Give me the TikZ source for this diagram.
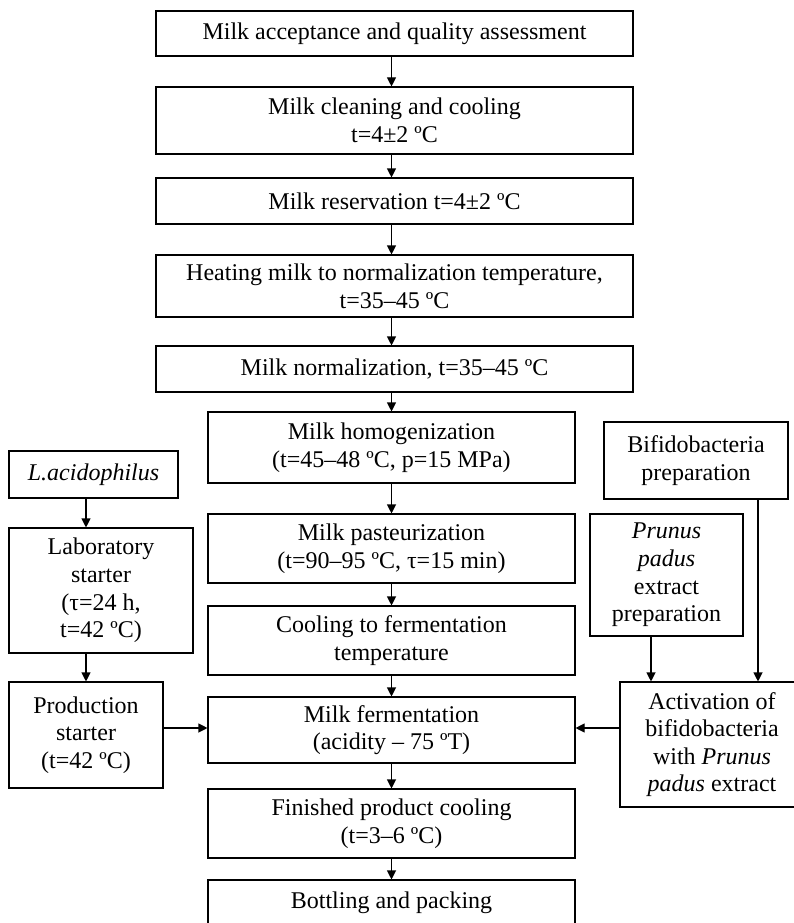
\documentclass[tikz,border=0pt]{standalone}
\usepackage{fontspec}
\setmainfont{Liberation Serif}
\usetikzlibrary{arrows.meta}
\tikzset{
  box/.style={draw=black, line width=1.1pt, rectangle, inner sep=0pt, align=center,
              font=\fontsize{24pt}{27.6pt}\selectfont},
  arr/.style={line width=1.1pt, -{Triangle[length=9pt,width=9pt]}}
}
\begin{document}
\begin{tikzpicture}[x=1pt,y=-1pt]
\useasboundingbox (0,0) rectangle (793,923);
% main column
\node[box, minimum width=477pt, minimum height=45pt] (acc) at (394.5,33.5) {Milk acceptance and quality assessment};
\node[box, minimum width=477pt, minimum height=67pt] (clean) at (394.5,120.5) {Milk cleaning and cooling\\t=4±2 ºC};
\node[box, minimum width=477pt, minimum height=46pt] (res) at (394.5,201) {Milk reservation t=4±2 ºC};
\node[box, minimum width=477pt, minimum height=62pt] (heat) at (394.5,286) {Heating milk to normalization temperature,\\t=35–45 ºC};
\node[box, minimum width=477pt, minimum height=46pt] (norm) at (394.5,369) {Milk normalization, t=35–45 ºC};
\node[box, minimum width=367pt, minimum height=71pt] (hom) at (391.5,447.5) {Milk homogenization\\(t=45–48 ºC, p=15 MPa)};
\node[box, minimum width=367pt, minimum height=69pt] (past) at (391.5,548.5) {Milk pasteurization\\(t=90–95 ºC, τ=15 min)};
\node[box, minimum width=367pt, minimum height=69pt] (coolf) at (391.5,640.5) {Cooling to fermentation\\temperature};
\node[box, minimum width=367pt, minimum height=66pt] (ferm) at (391.5,730) {Milk fermentation\\(acidity – 75 ºT)};
\node[box, minimum width=367pt, minimum height=69pt] (fin) at (391.5,823.5) {Finished product cooling\\(t=3–6 ºC)};
\node[box, minimum width=367pt, minimum height=46pt] (bott) at (391.5,903) {Bottling and packing};
% left column
\node[box, minimum width=169pt, minimum height=47pt] (la) at (93.5,474.5) {\itshape L.acidophilus};
\node[box, minimum width=184pt, minimum height=125pt] (lab) at (101,590.5) {Laboratory\\starter\\(τ=24 h,\\t=42 ºC)};
\node[box, minimum width=154pt, minimum height=106pt] (prod) at (86,735) {Production\\starter\\(t=42 ºC)};
% right column
\node[box, minimum width=184pt, minimum height=77pt] (bif) at (696,460.5) {Bifidobacteria\\preparation};
\node[box, minimum width=153pt, minimum height=122pt] (prun) at (666.5,575) {\textit{Prunus}\\\textit{padus}\\extract\\preparation};
\node[box, minimum width=184pt, minimum height=125pt] (act) at (712,744.5) {Activation of\\bifidobacteria\\with \textit{Prunus}\\\textit{padus} extract};
% helper coordinates
\coordinate (mx) at (391.5,0);
\coordinate (lx) at (86,0);
\coordinate (px) at (651,0);
\coordinate (bx) at (758,0);
\coordinate (hy) at (0,728);
% main arrows
\draw[arr] (acc.south -| mx) -- (clean.north -| mx);
\draw[arr] (clean.south -| mx) -- (res.north -| mx);
\draw[arr] (res.south -| mx) -- (heat.north -| mx);
\draw[arr] (heat.south -| mx) -- (norm.north -| mx);
\draw[arr] (norm.south -| mx) -- (hom.north -| mx);
\draw[arr] (hom.south -| mx) -- (past.north -| mx);
\draw[arr] (past.south -| mx) -- (coolf.north -| mx);
\draw[arr] (coolf.south -| mx) -- (ferm.north -| mx);
\draw[arr] (ferm.south -| mx) -- (fin.north -| mx);
\draw[arr] (fin.south -| mx) -- (bott.north -| mx);
% left arrows
\draw[arr] (la.south -| lx) -- (lab.north -| lx);
\draw[arr] (lab.south -| lx) -- (prod.north -| lx);
\draw[arr] (prod.east |- hy) -- (ferm.west |- hy);
% right arrows
\draw[arr] (bif.south -| bx) -- (act.north -| bx);
\draw[arr] (prun.south -| px) -- (act.north -| px);
\draw[arr] (act.west |- hy) -- (ferm.east |- hy);
\end{tikzpicture}
\end{document}
